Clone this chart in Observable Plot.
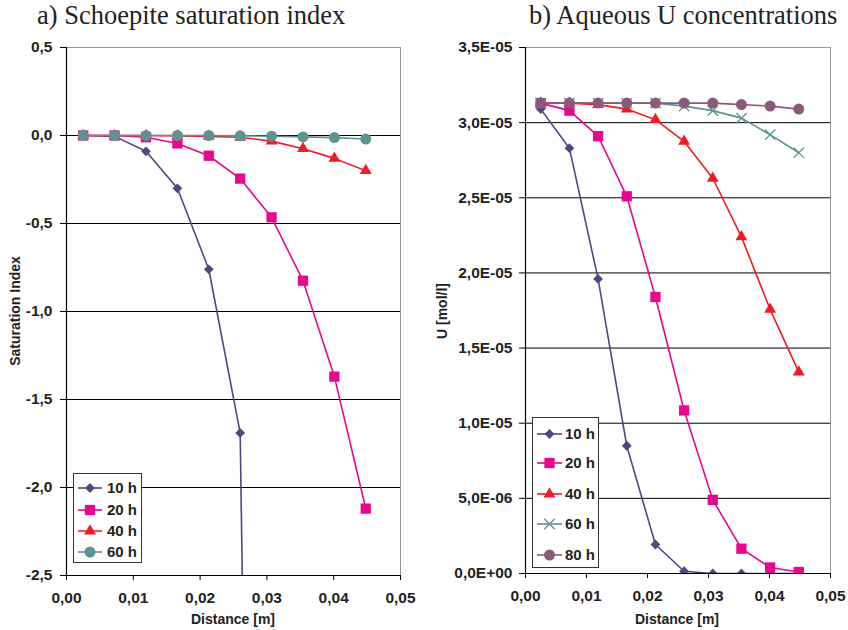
<!DOCTYPE html>
<html>
<head>
<meta charset="utf-8">
<script src="https://cdn.jsdelivr.net/npm/d3@7"></script>
<script src="https://cdn.jsdelivr.net/npm/@observablehq/plot@0.6"></script>
<style>
  html, body { margin: 0; padding: 0; background: #fff; }
  #root { position: relative; width: 848px; height: 630px; overflow: hidden; font-family: "Liberation Sans", Arial, sans-serif; }
  .title { position: absolute; top: 0px; font-family: "Liberation Serif", "Times New Roman", serif; font-size: 26.5px; color: #222; white-space: nowrap; }
  .axt { position: absolute; font-weight: bold; font-size: 14px; color: #222; white-space: nowrap; }
  .panel { position: absolute; top: 35px; }
  .panel text { font-size: 15.5px !important; font-weight: bold !important; font-family: "Liberation Sans", Arial, sans-serif !important; fill: #222; }
  .legend { position: absolute; border: 1px solid #333; background: #fff; }
  .legend .row { position: absolute; left: 0; height: 20px; }
  .legend .row span { position: absolute; font-weight: bold; font-size: 15px; color: #222; top: 1px; white-space: nowrap; }
</style>
</head>
<body>
<div id="root"></div>
<script>
// ---------- data ----------
const distance = [0.0025, 0.0072, 0.0119, 0.0166, 0.0213, 0.0260, 0.0307, 0.0354, 0.0401, 0.0448];

// a) saturation index
const si10 = [0, -0.005, -0.09, -0.30, -0.76, -1.69, -14];
const si20 = [0, 0, -0.01, -0.045, -0.115, -0.245, -0.465, -0.825, -1.37, -2.12];
const si40 = [0, 0, 0, -0.002, -0.005, -0.01, -0.032, -0.075, -0.13, -0.20];
const si60 = [0, 0, 0, 0, 0, -0.002, -0.004, -0.008, -0.012, -0.02];

// b) aqueous U (mol/l)
const u10 = [3.09e-5, 2.83e-5, 1.96e-5, 8.5e-6, 1.93e-6, 1.5e-7, 0, 0, 0, 0];
const u20 = [3.13e-5, 3.08e-5, 2.91e-5, 2.51e-5, 1.84e-5, 1.085e-5, 4.9e-6, 1.65e-6, 4e-7, 1e-7];
const u40 = [3.13e-5, 3.13e-5, 3.12e-5, 3.09e-5, 3.02e-5, 2.875e-5, 2.63e-5, 2.24e-5, 1.757e-5, 1.34e-5];
const u60 = [3.13e-5, 3.13e-5, 3.13e-5, 3.13e-5, 3.13e-5, 3.11e-5, 3.08e-5, 3.03e-5, 2.92e-5, 2.80e-5];
const u80 = [3.13e-5, 3.13e-5, 3.13e-5, 3.13e-5, 3.13e-5, 3.13e-5, 3.13e-5, 3.12e-5, 3.11e-5, 3.09e-5];

// ticks
const xTicks = [0, 0.01, 0.02, 0.03, 0.04, 0.05];
const xLabels = ["0,00", "0,01", "0,02", "0,03", "0,04", "0,05"];
const siTicks = [0.5, 0, -0.5, -1, -1.5, -2, -2.5];
const siLabels = ["0,5", "0,0", "-0,5", "-1,0", "-1,5", "-2,0", "-2,5"];
const uTicks = [3.5e-5, 3e-5, 2.5e-5, 2e-5, 1.5e-5, 1e-5, 5e-6, 0];
const uLabels = ["3,5E-05", "3,0E-05", "2,5E-05", "2,0E-05", "1,5E-05", "1,0E-05", "5,0E-06", "0,0E+00"];

const titleA = "a) Schoepite saturation index";
const titleB = "b) Aqueous U concentrations";
const xTitle = "Distance [m]";
const yTitleA = "Saturation Index";
const yTitleB = "U [mol/l]";

const seriesA = [
  {name: "10 h", values: si10, color: "#4b4a80", symbol: "diamond2", r: 4.4},
  {name: "20 h", values: si20, color: "#e8078c", symbol: "square", r: 5.8},
  {name: "40 h", values: si40, color: "#ee1c25", symbol: "triangle", r: 4.4},
  {name: "60 h", values: si60, color: "#5f9290", symbol: "circle", r: 5.5}
];
const seriesB = [
  {name: "10 h", values: u10, color: "#4b4a80", symbol: "diamond2", r: 4.4},
  {name: "20 h", values: u20, color: "#e8078c", symbol: "square", r: 5.8},
  {name: "40 h", values: u40, color: "#ee1c25", symbol: "triangle", r: 4.4},
  {name: "60 h", values: u60, color: "#5f9290", symbol: "times", r: 4.8},
  {name: "80 h", values: u80, color: "#8c5a78", symbol: "circle", r: 5.5}
];

// ---------- build ----------
const root = document.getElementById("root");

function rows(series) {
  return series.map(s => s.values.map((v, i) => ({x: distance[i], y: v, name: s.name})));
}

function makePanel(series, yDomain, yTicks, yLabels, m, yPad) {
  const W = 424, H = 595;
  const xl = new Map(xTicks.map((t, i) => [t, xLabels[i]]));
  const yl = new Map(yTicks.map((t, i) => [t, yLabels[i]]));
  const data = rows(series);
  const marks = [
    Plot.gridY(yTicks.filter(t => t !== yDomain[0] && t !== yDomain[1]), {stroke: "#000", strokeOpacity: 1, strokeWidth: 1}),
    Plot.frame({stroke: "#999", strokeWidth: 1}),
    Plot.axisY(yTicks, {tickSize: 6, tickPadding: yPad, tickFormat: d => yl.get(d), label: null, stroke: "#000"}),
    Plot.axisX(xTicks, {tickSize: 5, tickPadding: 11, tickFormat: d => xl.get(d), label: null, stroke: "#000"}),
    Plot.ruleX([0], {stroke: "#000", strokeWidth: 1.2}),
    Plot.ruleY([yDomain[0]], {stroke: "#000", strokeWidth: 1.2})
  ];
  series.forEach((s, k) => {
    marks.push(Plot.line(data[k], {x: "x", y: "y", stroke: s.color, strokeWidth: 1.6, clip: true}));
  });
  series.forEach((s, k) => {
    if (s.symbol === "times") {
      marks.push(Plot.dot(data[k], {x: "x", y: "y", symbol: s.symbol, r: s.r, stroke: s.color, strokeWidth: 1.3, fill: "none", clip: true}));
    } else {
      marks.push(Plot.dot(data[k], {x: "x", y: "y", symbol: s.symbol, r: s.r, fill: s.color, stroke: "none", clip: true}));
    }
  });
  return Plot.plot({
    width: W, height: H,
    marginLeft: m.left, marginRight: m.right, marginTop: m.top, marginBottom: m.bottom,
    style: {fontFamily: "'Liberation Sans', Arial, sans-serif", fontWeight: "bold", fontSize: "15.5px", color: "#222", background: "transparent", overflow: "visible"},
    x: {domain: [0, 0.05]},
    y: {domain: yDomain},
    marks
  });
}

function addDiv(cls, text, styles) {
  const d = document.createElement("div");
  d.className = cls;
  d.textContent = text;
  Object.assign(d.style, styles);
  root.appendChild(d);
  return d;
}

function makeLegend(series, left, top, w, h, rowYs, swX0, swX1, textX) {
  const box = document.createElement("div");
  box.className = "legend";
  Object.assign(box.style, {left: left + "px", top: top + "px", width: w + "px", height: h + "px"});
  const symMap = {diamond2: d3.symbolDiamond2, square: d3.symbolSquare, triangle: d3.symbolTriangle, times: d3.symbolTimes, circle: d3.symbolCircle};
  series.forEach((s, i) => {
    const row = document.createElement("div");
    row.className = "row";
    row.style.top = (rowYs[i] - 10) + "px";
    row.style.width = w + "px";
    const svg = d3.create("svg").attr("width", swX1 + 6).attr("height", 20).style("position", "absolute").style("left", "0px").style("top", "0px");
    svg.append("line").attr("x1", swX0).attr("x2", swX1).attr("y1", 10).attr("y2", 10).attr("stroke", s.color).attr("stroke-width", 1.6);
    const path = d3.symbol(symMap[s.symbol], Math.PI * s.r * s.r)();
    const p = svg.append("path").attr("d", path).attr("transform", `translate(${(swX0 + swX1) / 2},10)`);
    if (s.symbol === "times") p.attr("fill", "none").attr("stroke", s.color).attr("stroke-width", 1.3);
    else p.attr("fill", s.color);
    row.appendChild(svg.node());
    const sp = document.createElement("span");
    sp.textContent = s.name;
    sp.style.left = textX + "px";
    row.appendChild(sp);
    box.appendChild(row);
  });
  root.appendChild(box);
}

// titles
addDiv("title", titleA, {left: "37px"});
addDiv("title", titleB, {left: "529px"});

// panels
const pa = makePanel(seriesA, [-2.5, 0.5], siTicks, siLabels, {left: 66, right: 24, top: 12, bottom: 55}, 8);
pa.classList.add("panel"); pa.style.left = "0px";
root.appendChild(pa);
const pb = makePanel(seriesB, [0, 3.5e-5], uTicks, uLabels, {left: 101, right: 18, top: 12, bottom: 57}, 7);
pb.classList.add("panel"); pb.style.left = "424px";
root.appendChild(pb);

// axis titles
addDiv("axt", xTitle, {left: "233px", top: "611px", transform: "translateX(-50%)"});
addDiv("axt", xTitle, {left: "677px", top: "611px", transform: "translateX(-50%)"});
addDiv("axt", yTitleA, {left: "15px", top: "311px", transform: "translate(-50%,-50%) rotate(-90deg)"});
addDiv("axt", yTitleB, {left: "442px", top: "311px", transform: "translate(-50%,-50%) rotate(-90deg)"});

// legends
makeLegend(seriesA, 73, 473, 67, 88, [14, 36, 57, 78], 4, 28, 33);
makeLegend(seriesB, 532, 417, 65, 149, [16, 45, 76, 106, 137], 4, 29, 32);
</script>
</body>
</html>
